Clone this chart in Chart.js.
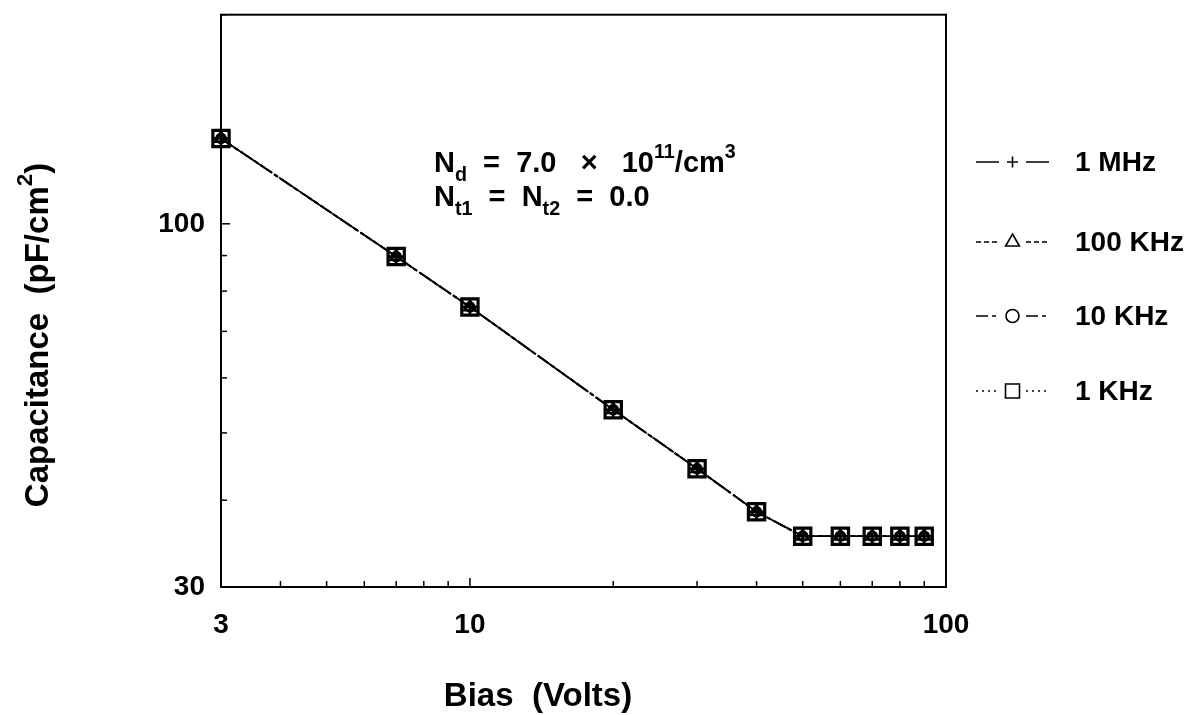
<!DOCTYPE html>
<html>
<head>
<meta charset="utf-8">
<script src="https://cdn.jsdelivr.net/npm/chart.js@4.4.1/dist/chart.umd.min.js"></script>
<style>
  html, body { margin: 0; padding: 0; background: #fff; }
  #wrap { width: 1192px; height: 715px; }
</style>
</head>
<body>
<div id="wrap"><canvas id="cv" width="1192" height="715"></canvas></div>
<script>
// bias sweep (V) and measured capacitance (pF/cm^2) per test frequency
const biasVolts = [3, 7, 10, 20, 30, 40, 50, 60, 70, 80, 90];
const cap1MHz   = [132.7, 89.7, 75.9, 54.0, 44.4, 38.5, 35.5, 35.5, 35.5, 35.5, 35.5];
const cap100kHz = [132.7, 89.7, 75.9, 54.0, 44.4, 38.5, 35.5, 35.5, 35.5, 35.5, 35.5];
const cap10kHz  = [132.7, 89.7, 75.9, 54.0, 44.4, 38.5, 35.5, 35.5, 35.5, 35.5, 35.5];
const cap1kHz   = [132.7, 89.7, 75.9, 54.0, 44.4, 38.5, 35.5, 35.5, 35.5, 35.5, 35.5];
const seriesNames = ['1 MHz', '100 KHz', '10 KHz', '1 KHz'];

// axis ticks (all get a tick mark, only some get a label)
const xTickValues = [3, 4, 5, 6, 7, 8, 9, 10, 20, 30, 40, 50, 60, 70, 80, 90, 100];
const xTickLabels = [3, 10, 100];
const yTickValues = [30, 40, 50, 60, 70, 80, 90, 100, 200];
const yTickLabels = [30, 100];

const FONT = '"Liberation Sans", Arial, Helvetica, sans-serif';

function makeSeries(label, values, style, radius, dash, width) {
    return {
        label: label,
        data: biasVolts.map((v, i) => ({ x: v, y: values[i] })),
        borderColor: '#000',
        backgroundColor: 'rgba(0,0,0,0)',
        borderWidth: 1.8,
        borderDash: dash,
        pointStyle: style,
        pointRadius: radius,
        pointBorderWidth: width,
        pointBorderColor: '#000',
        pointBackgroundColor: 'rgba(0,0,0,0)',
        tension: 0,
        clip: false
    };
}

// text made of runs: [text, 'sub' | 'sup' | undefined]
function runsWidth(ctx, runs, size) {
    let w = 0;
    runs.forEach(([txt, kind]) => {
        ctx.font = 'bold ' + (kind ? size * 0.68 : size) + 'px ' + FONT;
        w += ctx.measureText(txt).width;
    });
    return w;
}

function drawRuns(ctx, runs, x, y, size) {
    let cx = x;
    runs.forEach(([txt, kind]) => {
        let s = size, dy = 0;
        if (kind === 'sub') { s = size * 0.68; dy = size * 0.32; }
        if (kind === 'sup') { s = size * 0.68; dy = -size * 0.5; }
        ctx.font = 'bold ' + s + 'px ' + FONT;
        ctx.fillText(txt, cx, y + dy);
        cx += ctx.measureText(txt).width;
    });
    return cx;
}

// box around the plot and inward tick marks
const framePlugin = {
    id: 'frame',
    afterDatasetsDraw(chart) {
        const { ctx, chartArea: a, scales } = chart;
        ctx.save();
        ctx.strokeStyle = '#000';
        ctx.lineWidth = 2;
        ctx.strokeRect(a.left, a.top, a.right - a.left, a.bottom - a.top);
        ctx.lineWidth = 1.5;
        scales.x.ticks.forEach(t => {
            const px = scales.x.getPixelForValue(t.value);
            const len = xTickLabels.includes(t.value) ? 9 : 6;
            ctx.beginPath();
            ctx.moveTo(px, a.bottom);
            ctx.lineTo(px, a.bottom - len);
            ctx.stroke();
        });
        scales.y.ticks.forEach(t => {
            const py = scales.y.getPixelForValue(t.value);
            const len = yTickLabels.includes(t.value) ? 9 : 6;
            ctx.beginPath();
            ctx.moveTo(a.left, py);
            ctx.lineTo(a.left + len, py);
            ctx.stroke();
        });
        ctx.restore();
    }
};

// parameter note, axis titles and the side legend
const textPlugin = {
    id: 'texts',
    afterDraw(chart) {
        const ctx = chart.ctx;
        ctx.save();
        ctx.fillStyle = '#000';
        ctx.textBaseline = 'alphabetic';
        ctx.textAlign = 'left';

        drawRuns(ctx, [['N'], ['d', 'sub'], ['  =  7.0   \u00d7   10'], ['11', 'sup'], ['/cm'], ['3', 'sup']], 434, 172, 29);
        drawRuns(ctx, [['N'], ['t1', 'sub'], ['  =  N'], ['t2', 'sub'], ['  =  0.0']], 434, 206, 29);

        // x axis title
        const xRuns = [['Bias  (Volts)']];
        drawRuns(ctx, xRuns, 538 - runsWidth(ctx, xRuns, 33) / 2, 706, 33);

        // y axis title, reading upwards
        ctx.save();
        ctx.translate(48, 335);
        ctx.rotate(-Math.PI / 2);
        const yRuns = [['Capacitance  (pF/cm'], ['2', 'sup'], [')']];
        drawRuns(ctx, yRuns, -runsWidth(ctx, yRuns, 33) / 2, 0, 33);
        ctx.restore();

        // legend: dash pattern of each series with its marker in the middle
        const rows = [162, 242, 316, 391];
        const legendRadius = [5.5, 8, 6.5, 9.9];
        chart.data.datasets.forEach((ds, i) => {
            const y = rows[i];
            ctx.save();
            ctx.strokeStyle = '#000';
            ctx.fillStyle = '#fff';
            ctx.lineWidth = 1.6;
            ctx.setLineDash(ds.borderDash);
            ctx.beginPath();
            ctx.moveTo(976, y); ctx.lineTo(999, y);
            ctx.moveTo(1026, y); ctx.lineTo(1049, y);
            ctx.stroke();
            ctx.setLineDash([]);
            Chart.helpers.drawPoint(ctx, {
                pointStyle: ds.pointStyle,
                radius: legendRadius[i],
                rotation: 0,
                borderWidth: 1.6
            }, 1012.5, y);
            ctx.restore();
            ctx.font = 'bold 28px ' + FONT;
            ctx.textBaseline = 'middle';
            ctx.fillText(ds.label, 1075, y + 1);
        });
        ctx.restore();
    }
};

new Chart(document.getElementById('cv'), {
    type: 'line',
    data: {
        datasets: [
            makeSeries(seriesNames[0], cap1MHz, 'cross', 8, [26, 3, 3, 3], 2.6),
            makeSeries(seriesNames[1], cap100kHz, 'triangle', 6.5, [5, 3], 2.6),
            makeSeries(seriesNames[2], cap10kHz, 'circle', 4.5, [12, 4, 4, 4], 2.6),
            makeSeries(seriesNames[3], cap1kHz, 'rect', 11.5, [2, 4], 3.2)
        ]
    },
    options: {
        responsive: false,
        animation: false,
        layout: { padding: { top: 13, right: 246, left: 0, bottom: 0 } },
        plugins: { legend: { display: false }, tooltip: { enabled: false } },
        scales: {
            x: {
                type: 'logarithmic',
                min: 3,
                max: 100,
                afterBuildTicks: s => { s.ticks = xTickValues.map(v => ({ value: v })); },
                afterFit: s => { s.height = 128; s.paddingLeft = 0; s.paddingRight = 0; },
                grid: { display: false, drawTicks: false },
                border: { display: false },
                ticks: {
                    autoSkip: false,
                    maxRotation: 0,
                    padding: 21,
                    color: '#000',
                    font: { family: FONT, size: 28, weight: 'bold' },
                    callback: v => xTickLabels.includes(v) ? String(v) : ''
                }
            },
            y: {
                type: 'logarithmic',
                min: 30,
                max: 200,
                afterBuildTicks: s => { s.ticks = yTickValues.map(v => ({ value: v })); },
                afterFit: s => { s.width = 221; s.paddingTop = 0; s.paddingBottom = 0; },
                grid: { display: false, drawTicks: false },
                border: { display: false },
                ticks: {
                    autoSkip: false,
                    padding: 16,
                    color: '#000',
                    font: { family: FONT, size: 28, weight: 'bold' },
                    callback: v => yTickLabels.includes(v) ? String(v) : ''
                }
            }
        }
    },
    plugins: [framePlugin, textPlugin]
});
</script>
</body>
</html>
